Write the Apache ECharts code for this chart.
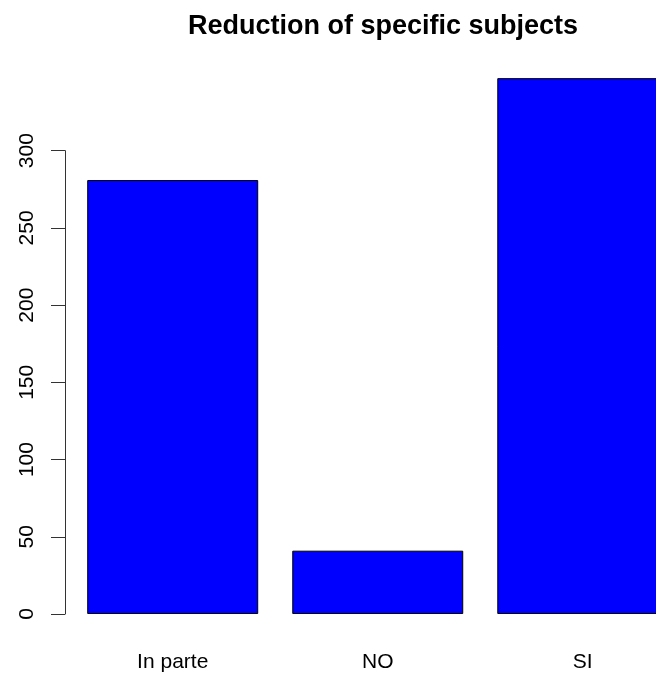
<!DOCTYPE html>
<html>
<head>
<meta charset="utf-8">
<script src="https://cdn.jsdelivr.net/npm/echarts@6/dist/echarts.min.js"></script>
<style>html,body{margin:0;padding:0;background:#fff}#c{width:656px;height:675px}</style>
</head>
<body>
<div id="c"></div>
<script>
const categories = ["In parte", "NO", "SI"];
const counts = [281, 41, 347];
const yTickMax = 300;
const yTickStep = 50;
const titleText = "Reduction of specific subjects";

const font = "'Liberation Sans', Arial, Helvetica, sans-serif";
const chart = echarts.init(document.getElementById('c'), null, {renderer: 'canvas'});
chart.setOption({
  animation: false,
  backgroundColor: '#ffffff',
  title: {
    text: titleText,
    left: 378,
    textAlign: 'center',
    top: 8,
    textStyle: {fontFamily: font, fontWeight: 'bold', fontSize: 27, color: '#000'}
  },
  grid: [
    {left: 70.2, width: 615.1, top: 73.5, bottom: 61, containLabel: false, outerBoundsMode: 'none'},
    {left: 65, width: 10, top: 150.7, bottom: 61, containLabel: false, outerBoundsMode: 'none'}
  ],
  xAxis: [
    {
      gridIndex: 0, type: 'category', data: categories,
      axisLine: {show: false}, axisTick: {show: false},
      axisLabel: {fontFamily: font, fontSize: 21, color: '#000', margin: 38}
    },
    {gridIndex: 1, type: 'value', show: false}
  ],
  yAxis: [
    {gridIndex: 0, type: 'value', min: 0, max: 350, show: false, splitLine: {show: false}},
    {
      gridIndex: 1, type: 'value', min: 0, max: yTickMax, interval: yTickStep,
      axisLine: {show: true, lineStyle: {color: '#333', width: 1}},
      axisTick: {show: true, length: 14, lineStyle: {color: '#333', width: 1}},
      splitLine: {show: false},
      axisLabel: {rotate: 90, fontFamily: font, fontSize: 21, color: '#000', margin: 27}
    }
  ],
  series: [{
    type: 'bar',
    xAxisIndex: 0, yAxisIndex: 0,
    data: counts,
    barWidth: '83.4%',
    itemStyle: {color: '#0000ff', borderColor: '#000', borderWidth: 1}
  }]
});
</script>
</body>
</html>
